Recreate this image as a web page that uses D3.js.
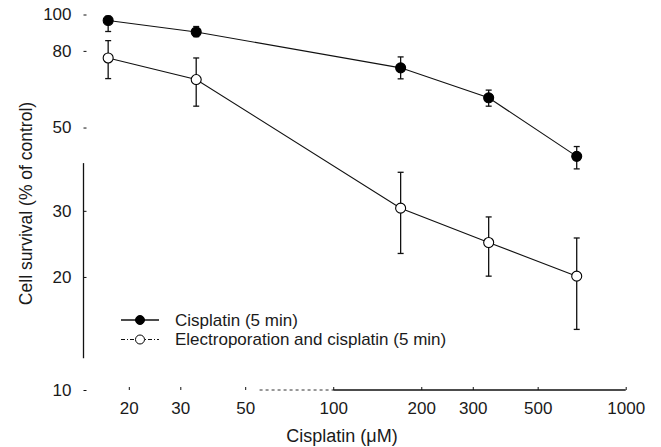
<!DOCTYPE html>
<html><head><meta charset="utf-8">
<script src="https://cdn.jsdelivr.net/npm/d3@7"></script>
<style>
body{margin:0;background:#fff;}
text{font-family:"Liberation Sans",Arial,sans-serif;fill:#1a1a1a;}
</style></head>
<body><svg id="c" width="661" height="447"></svg>
<script>
const doses = [17, 34, 170, 340, 680];
const cisMean  = [96.4, 89.8, 72.1, 60.0, 41.9];
const cisUpper = [99.0, 92.9, 77.1, 62.9, 44.5];
const cisLower = [90.1, 87.3, 67.4, 57.0, 38.8];
const epMean  = [76.6, 67.1, 30.5, 24.7, 20.1];
const epUpper = [85.2, 76.6, 38.0, 28.9, 25.4];
const epLower = [67.5, 57.0, 23.1, 20.1, 14.5];
const xTicks = [20, 30, 50, 100, 200, 300, 500, 1000];
const yTicks = [10, 20, 30, 50, 80, 100];
const seriesNames = ["Cisplatin (5 min)", "Electroporation and cisplatin (5 min)"];
const xTitle = "Cisplatin (\u03BCM)";
const yTitle = "Cell survival (% of control)";

const svg = d3.select("#c");
const x = d3.scaleLog().domain([14, 1000]).range([83.5, 625.7]);
const y = d3.scaleLog().domain([10, 100]).range([390, 14.5]);
const FS = 17, FT = 18;

// axes
const gx = svg.append("g").attr("transform", `translate(0,${y(10)})`)
  .call(d3.axisBottom(x).tickValues(xTicks).tickFormat(d3.format("d"))
    .tickSizeInner(-3).tickSizeOuter(0).tickPadding(12));
gx.select(".domain").remove();
gx.selectAll("line").attr("stroke", "#111");
gx.selectAll("text").attr("font-size", FS).style("font-family", "Liberation Sans, Arial, sans-serif").attr("fill", "#1a1a1a");

const gy = svg.append("g").attr("transform", `translate(${x(14)},0)`)
  .call(d3.axisLeft(y).tickValues(yTicks).tickFormat(d3.format("d"))
    .tickSizeInner(-3).tickSizeOuter(0).tickPadding(12));
gy.select(".domain").remove();
gy.selectAll("line").attr("stroke", "#111");
gy.selectAll("text").attr("font-size", FS).style("font-family", "Liberation Sans, Arial, sans-serif").attr("fill", "#1a1a1a");

// axis lines (partly faded in the scanned original)
svg.append("line").attr("x1", x(14)).attr("x2", x(14)).attr("y1", y(12.15)).attr("y2", y(40.2))
  .attr("stroke", "#111").attr("stroke-width", 1.3);
svg.append("line").attr("x1", x(100)).attr("x2", x(1000)).attr("y1", y(10)).attr("y2", y(10))
  .attr("stroke", "#111").attr("stroke-width", 1.3);
svg.append("line").attr("x1", x(56)).attr("x2", x(100)).attr("y1", y(10)).attr("y2", y(10))
  .attr("stroke", "#333").attr("stroke-width", 1).attr("stroke-dasharray", "3,3");

// titles
svg.append("text").attr("x", 342).attr("y", 442).attr("text-anchor", "middle")
  .attr("font-size", FT).text(xTitle);
svg.append("text").attr("transform", "translate(26,203.5) rotate(-90)").attr("text-anchor", "middle")
  .attr("dy", "0.35em").attr("font-size", FS + 0.5).text(yTitle);

function drawSeries(mean, up, lo, filled) {
  const pts = doses.map((d, i) => ({d, m: mean[i], u: up[i], l: lo[i]}));
  svg.append("path").datum(pts)
    .attr("d", d3.line().x(p => x(p.d)).y(p => y(p.m)))
    .attr("fill", "none").attr("stroke", "#111").attr("stroke-width", 1.1);
  const g = svg.append("g").attr("stroke", "#111").attr("stroke-width", 1.3);
  pts.forEach(p => {
    g.append("line").attr("x1", x(p.d)).attr("x2", x(p.d)).attr("y1", y(p.u)).attr("y2", y(p.l));
    [p.u, p.l].forEach(v => g.append("line").attr("x1", x(p.d) - 3).attr("x2", x(p.d) + 3)
      .attr("y1", y(v)).attr("y2", y(v)));
  });
  svg.append("g").selectAll("circle").data(pts).join("circle")
    .attr("cx", p => x(p.d)).attr("cy", p => y(p.m)).attr("r", 5)
    .attr("fill", filled ? "#000" : "#fff").attr("stroke", "#000").attr("stroke-width", 1.1);
}
drawSeries(cisMean, cisUpper, cisLower, true);
drawSeries(epMean, epUpper, epLower, false);

// legend
const lg = svg.append("g");
[0, 1].forEach(i => {
  const cy = 320 + i * 19.5;
  lg.append("line").attr("x1", 121).attr("x2", 159).attr("y1", cy).attr("y2", cy)
    .attr("stroke", "#111").attr("stroke-width", i ? 1 : 1.4)
    .attr("stroke-dasharray", i ? "4,2,1,2" : null);
  lg.append("circle").attr("cx", 140).attr("cy", cy).attr("r", 4.5)
    .attr("fill", i ? "#fff" : "#000").attr("stroke", "#000");
  lg.append("text").attr("x", 175).attr("y", cy).attr("dy", "0.35em").attr("font-size", FS)
    .text(seriesNames[i]);
});
</script></body></html>
